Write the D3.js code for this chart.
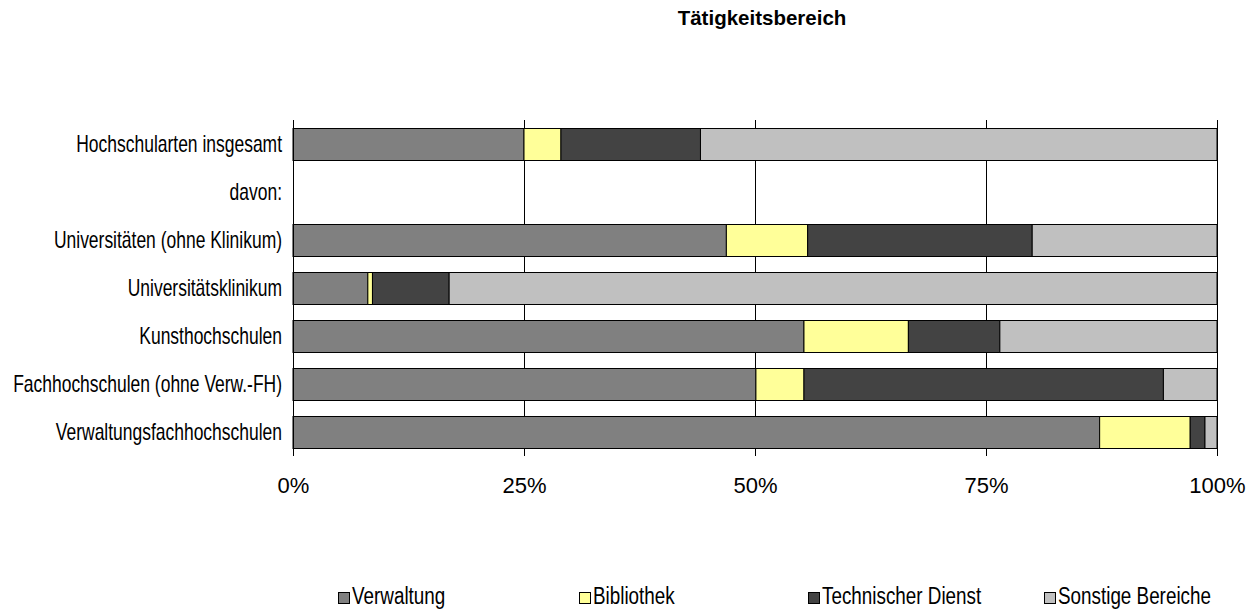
<!DOCTYPE html>
<html>
<head>
<meta charset="utf-8">
<script src="https://cdn.jsdelivr.net/npm/d3@7"></script>
<style>
  body { margin: 0; background: #fff; }
  svg { display: block; font-family: "Liberation Sans", Arial, sans-serif; }
</style>
</head>
<body>
<svg id="chart"></svg>
<script>
// Anteile je Hochschulart in Prozent (davon: hat keinen Balken)
var categories = ["Hochschularten insgesamt", "davon:", "Universitäten (ohne Klinikum)",
                  "Universitätsklinikum", "Kunsthochschulen", "Fachhochschulen (ohne Verw.-FH)",
                  "Verwaltungsfachhochschulen"];
var verwaltung = [25.0, 0, 46.9, 8.1, 55.3, 50.1, 87.3];
var bibliothek = [4.0, 0, 8.8, 0.5, 11.3, 5.2, 9.8];
var technik    = [15.1, 0, 24.3, 8.3, 9.9, 38.9, 1.6];
var sonstige   = [55.9, 0, 20.0, 83.1, 23.5, 5.8, 1.3];
var seriesNames = ["Verwaltung", "Bibliothek", "Technischer Dienst", "Sonstige Bereiche"];
var ticks = [0, 25, 50, 75, 100];

var colors = ["#808080", "#ffff99", "#434343", "#c0c0c0"];

var W = 1255, H = 614;
var svg = d3.select("#chart").attr("width", W).attr("height", H);

var rows = categories.map(function(c, i) {
  return { cat: c, "Verwaltung": verwaltung[i], "Bibliothek": bibliothek[i],
           "Technischer Dienst": technik[i], "Sonstige Bereiche": sonstige[i] };
});
var stacked = d3.stack().keys(seriesNames)(rows);

var x = d3.scaleLinear().domain([0, 100]).range([293, 1217]);
var y = d3.scaleBand().domain(categories).range([120, 456])
          .paddingInner(1/3).paddingOuter(1/6);

// title
svg.append("text")
   .attr("x", 762).attr("y", 25)
   .attr("text-anchor", "middle")
   .attr("font-weight", "bold").attr("font-size", "20.5px")
   .text("Tätigkeitsbereich");

// grid lines
svg.append("g").selectAll("line")
   .data(ticks.slice(1))
   .enter().append("line")
   .attr("x1", function(d) { return Math.round(x(d)) + 0.5; })
   .attr("x2", function(d) { return Math.round(x(d)) + 0.5; })
   .attr("y1", 120).attr("y2", 456)
   .attr("stroke", "#000").attr("stroke-width", 1);

// bars
svg.append("g").selectAll("g")
   .data(stacked)
   .enter().append("g")
   .attr("fill", function(d, i) { return colors[i]; })
   .selectAll("rect")
   .data(function(d) { return d.filter(function(p) { return p[1] - p[0] > 0; }); })
   .enter().append("rect")
   .attr("x", function(d) { return x(d[0]); })
   .attr("y", function(d) { return Math.round(y(d.data.cat)) + 0.5; })
   .attr("width", function(d) { return x(d[1]) - x(d[0]); })
   .attr("height", Math.round(y.bandwidth()))
   .attr("stroke", "#000").attr("stroke-width", 1);

// category axis line
svg.append("line")
   .attr("x1", 293.5).attr("x2", 293.5).attr("y1", 120).attr("y2", 456)
   .attr("stroke", "#000");

// category labels (narrow)
svg.append("g").selectAll("text")
   .data(categories)
   .enter().append("text")
   .attr("transform", function(d) {
     return "translate(282," + (y(d) + y.bandwidth() / 2 + 8) + ") scale(0.76,1)";
   })
   .attr("text-anchor", "end")
   .attr("font-size", "23px")
   .text(function(d) { return d; });

// value axis labels
var xAxis = d3.axisBottom(x).tickValues(ticks).tickSize(0)
              .tickFormat(function(d) { return d + "%"; });
var gx = svg.append("g").attr("transform", "translate(0,456)").call(xAxis);
gx.select(".domain").remove();
gx.selectAll("text")
  .attr("dy", null).attr("y", 37)
  .attr("font-size", "22px").attr("fill", "#000")
  .attr("font-family", "Liberation Sans, Arial, sans-serif");

// legend
var legendX = [338, 579, 808, 1044];
var lg = svg.append("g").selectAll("g")
   .data(seriesNames)
   .enter().append("g")
   .attr("transform", function(d, i) { return "translate(" + legendX[i] + ",592)"; });
lg.append("rect")
  .attr("x", 0.5).attr("y", 0.5).attr("width", 11).attr("height", 11)
  .attr("fill", function(d, i) { return colors[i]; })
  .attr("stroke", "#000");
lg.append("text")
  .attr("transform", "translate(14,12) scale(0.82,1)")
  .attr("font-size", "23px")
  .text(function(d) { return d; });
</script>
</body>
</html>
